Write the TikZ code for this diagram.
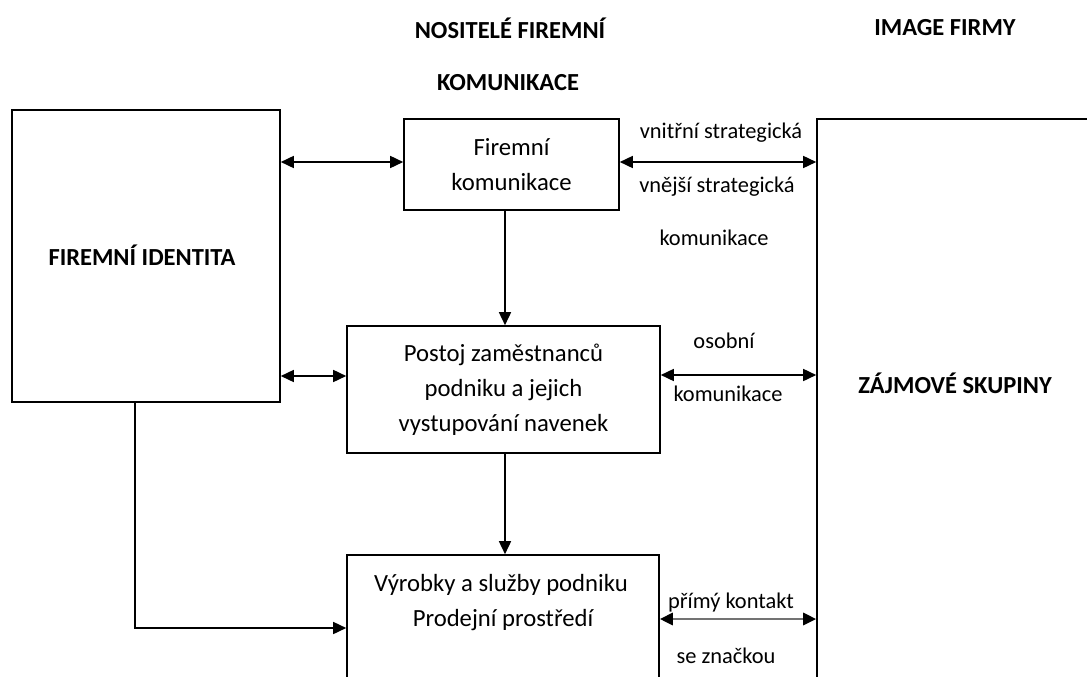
\documentclass[tikz,border=0pt]{standalone}
\usepackage{fontspec}
\setmainfont{Carlito}
\usetikzlibrary{arrows.meta}
\tikzset{
  box/.style={draw, line width=1.6pt, inner sep=0pt, align=center},
  txt/.style={inner sep=0pt, align=center, font=\fontsize{22.4}{35}\selectfont},
  btxt/.style={inner sep=0pt, align=center, font=\fontsize{24.7}{35}\selectfont},
  head/.style={inner sep=0pt, align=center, font=\fontsize{24.5}{35}\selectfont\bfseries},
  conn/.style={line width=1.6pt, -{Triangle[length=13pt,width=12pt]}},
  biconn/.style={line width=1.6pt, {Triangle[length=13pt,width=12pt]}-{Triangle[length=13pt,width=12pt]}},
}
\begin{document}
\begin{tikzpicture}[x=1pt,y=-1pt]
\useasboundingbox (0,0) rectangle (1087,677);
\clip (0,0) rectangle (1087,677);
% boxes
\node[box, minimum width=268pt, minimum height=292pt] (fi) at (146,256) {};
\node[head] at (142,255) {FIREMNÍ IDENTITA};
\node[box, minimum width=215pt, minimum height=91pt, btxt] (fk) at (511.5,164.5) {Firemní\\komunikace};
\node[box, minimum width=313pt, minimum height=127pt, btxt] (po) at (503.5,389.5) {Postoj zaměstnanců\\podniku a jejich\\vystupování navenek};
\node[box, minimum width=312pt, minimum height=200pt] (vy) at (503,655) {};
\node[btxt] at (501,585) {Výrobky a služby podniku};
\node[btxt] at (503,620) {Prodejní prostředí};
\node[box, minimum width=300pt, minimum height=600pt] (zs) at (967,419) {};
\node[head] at (955,383) {ZÁJMOVÉ SKUPINY};
% headers
\node[head] at (510,28) {NOSITELÉ FIREMNÍ};
\node[head] at (508,83) {KOMUNIKACE};
\node[head] at (945,28) {IMAGE FIRMY};
% labels
\node[txt] at (721,133) {vnitřní strategická};
\node[txt] at (717,187) {vnější strategická};
\node[txt] at (714,238) {komunikace};
\node[txt] at (724,341) {osobní};
\node[txt] at (728,394) {komunikace};
\node[txt] at (731,603) {přímý kontakt};
\node[txt] at (726,656) {se značkou};
% connectors
\coordinate (c1) at (135,0);
\coordinate (c2) at (505,0);
\draw[biconn] (fi.east |- 0,162) -- (fk.west |- 0,162);
\draw[biconn] (fi.east |- 0,376) -- (po.west |- 0,376);
\draw[biconn] (fk.east |- 0,162) -- (zs.west |- 0,162);
\draw[biconn] (po.east |- 0,375) -- (zs.west |- 0,375);
\draw[draw=black!55, line width=2.8pt, {Triangle[length=13pt,width=12pt,black]}-{Triangle[length=13pt,width=12pt,black]}] (vy.east |- 0,619) -- (zs.west |- 0,619);
\draw[conn] (c2 |- fk.south) -- (c2 |- po.north);
\draw[conn] (c2 |- po.south) -- (c2 |- vy.north);
\draw[conn] (c1 |- fi.south) |- (vy.west |- 0,628);
\end{tikzpicture}
\end{document}
